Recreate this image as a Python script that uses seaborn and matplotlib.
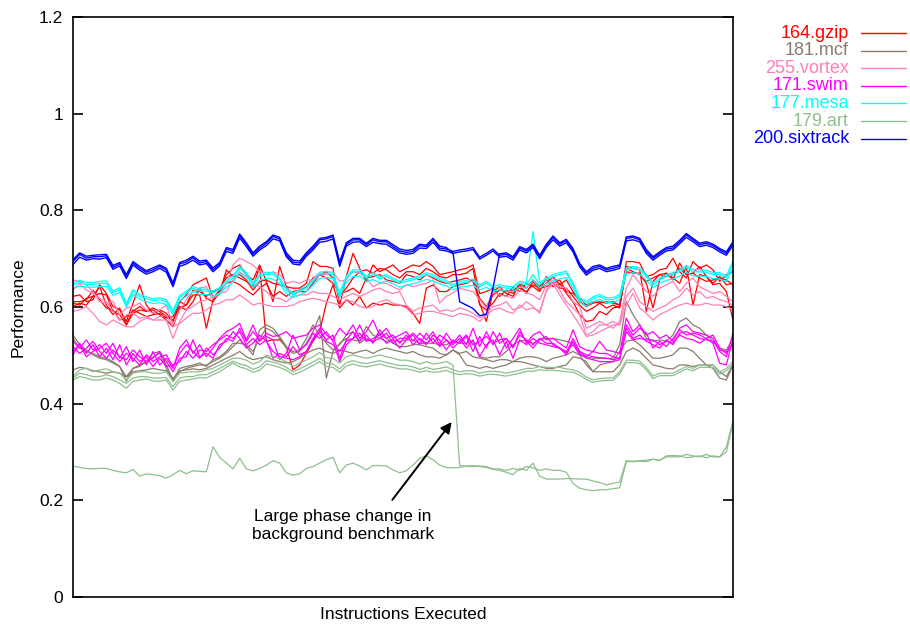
import matplotlib
matplotlib.use("Agg")
import matplotlib.pyplot as plt
from matplotlib.lines import Line2D
import numpy as np
import pandas as pd
import seaborn as sns

# Benchmarks, in plotting / key order
benchmarks = ["164.gzip", "181.mcf", "255.vortex", "171.swim",
              "177.mesa", "179.art", "200.sixtrack"]

colors = {
    "164.gzip": "#ff0000",
    "181.mcf": "#8b7b6b",
    "255.vortex": "#ff7fb8",
    "171.swim": "#ff00ff",
    "177.mesa": "#00ffff",
    "179.art": "#8fbf8f",
    "200.sixtrack": "#0000ff",
}

# Per-sample performance of each run (100 samples per run)
gzip_runs = [
    [0.622, 0.625, 0.611, 0.615, 0.646, 0.628, 0.601, 0.594, 0.570, 0.608, 0.646, 0.604, 0.587, 0.594, 0.587, 0.570, 0.611, 0.625, 0.646, 0.653, 0.660, 0.618, 0.635, 0.667, 0.680,
     0.687, 0.667, 0.656, 0.687, 0.653, 0.611, 0.684, 0.642, 0.639, 0.639, 0.649, 0.694, 0.684, 0.684, 0.680, 0.604, 0.663, 0.711, 0.680, 0.653, 0.687, 0.673, 0.680, 0.687, 0.673,
     0.680, 0.687, 0.684, 0.694, 0.684, 0.667, 0.670, 0.673, 0.677, 0.680, 0.687, 0.628, 0.632, 0.639, 0.622, 0.635, 0.628, 0.646, 0.628, 0.653, 0.635, 0.649, 0.663, 0.646, 0.656,
     0.632, 0.611, 0.601, 0.608, 0.611, 0.608, 0.611, 0.604, 0.694, 0.694, 0.691, 0.663, 0.667, 0.677, 0.680, 0.701, 0.673, 0.660, 0.694, 0.680, 0.687, 0.677, 0.653, 0.667, 0.673],
    [0.608, 0.604, 0.618, 0.622, 0.642, 0.604, 0.584, 0.598, 0.563, 0.594, 0.587, 0.580, 0.584, 0.587, 0.577, 0.580, 0.611, 0.604, 0.625, 0.625, 0.556, 0.615, 0.628, 0.677, 0.663,
     0.667, 0.656, 0.635, 0.653, 0.656, 0.649, 0.646, 0.642, 0.625, 0.632, 0.632, 0.649, 0.667, 0.673, 0.660, 0.625, 0.639, 0.660, 0.673, 0.677, 0.670, 0.680, 0.677, 0.667, 0.660,
     0.673, 0.673, 0.667, 0.680, 0.673, 0.663, 0.660, 0.667, 0.667, 0.670, 0.680, 0.604, 0.594, 0.608, 0.628, 0.622, 0.642, 0.632, 0.649, 0.642, 0.632, 0.663, 0.649, 0.639, 0.639,
     0.622, 0.604, 0.591, 0.598, 0.608, 0.598, 0.604, 0.598, 0.684, 0.680, 0.677, 0.591, 0.653, 0.667, 0.670, 0.656, 0.691, 0.667, 0.670, 0.684, 0.663, 0.649, 0.663, 0.646, 0.649],
    [0.601, 0.608, 0.604, 0.622, 0.628, 0.625, 0.591, 0.584, 0.563, 0.587, 0.594, 0.591, 0.594, 0.584, 0.573, 0.559, 0.598, 0.604, 0.635, 0.632, 0.622, 0.632, 0.639, 0.660, 0.667,
     0.660, 0.653, 0.642, 0.683, 0.529, 0.532, 0.532, 0.518, 0.470, 0.480, 0.504, 0.529, 0.549, 0.608, 0.646, 0.598, 0.615, 0.604, 0.622, 0.598, 0.608, 0.604, 0.608, 0.604, 0.604,
     0.601, 0.587, 0.566, 0.639, 0.646, 0.632, 0.632, 0.642, 0.646, 0.649, 0.656, 0.608, 0.570, 0.632, 0.642, 0.628, 0.622, 0.649, 0.639, 0.656, 0.642, 0.656, 0.642, 0.649, 0.628,
     0.611, 0.584, 0.570, 0.573, 0.591, 0.584, 0.598, 0.601, 0.680, 0.673, 0.667, 0.649, 0.598, 0.656, 0.670, 0.660, 0.649, 0.684, 0.604, 0.667, 0.663, 0.646, 0.649, 0.632, 0.573],
    [0.611, 0.611, 0.615, 0.635, 0.615, 0.598, 0.594, 0.573, 0.580, 0.591, 0.601, 0.591, 0.598, 0.591, 0.580, 0.573, 0.601, 0.594, 0.611, 0.639, 0.618, 0.611, 0.632, 0.649, 0.653,
     0.646, 0.635, 0.625, 0.639, 0.649, 0.622, 0.632, 0.622, 0.632, 0.635, 0.642, 0.660, 0.667, 0.660, 0.649, 0.628, 0.632, 0.639, 0.628, 0.660, 0.663, 0.667, 0.656, 0.653, 0.649,
     0.667, 0.663, 0.656, 0.667, 0.660, 0.653, 0.649, 0.653, 0.656, 0.660, 0.653, 0.618, 0.601, 0.625, 0.635, 0.632, 0.635, 0.639, 0.632, 0.646, 0.639, 0.642, 0.649, 0.656, 0.632,
     0.628, 0.618, 0.604, 0.611, 0.608, 0.611, 0.608, 0.604, 0.673, 0.670, 0.670, 0.653, 0.660, 0.667, 0.663, 0.667, 0.680, 0.667, 0.670, 0.660, 0.653, 0.656, 0.660, 0.656, 0.646],
]

mcf_runs = [
    [0.542, 0.522, 0.511, 0.501, 0.494, 0.491, 0.484, 0.477, 0.446, 0.473, 0.477, 0.487, 0.504, 0.508, 0.480, 0.449, 0.473, 0.477, 0.480, 0.484, 0.477, 0.491, 0.497, 0.508, 0.525,
     0.525, 0.522, 0.508, 0.535, 0.556, 0.549, 0.535, 0.515, 0.504, 0.508, 0.525, 0.549, 0.582, 0.453, 0.508, 0.525, 0.535, 0.532, 0.529, 0.560, 0.542, 0.535, 0.529, 0.532, 0.529,
     0.532, 0.532, 0.525, 0.525, 0.525, 0.522, 0.522, 0.529, 0.525, 0.525, 0.529, 0.497, 0.494, 0.497, 0.497, 0.508, 0.522, 0.529, 0.532, 0.525, 0.532, 0.535, 0.535, 0.532, 0.529,
     0.525, 0.508, 0.497, 0.494, 0.494, 0.494, 0.494, 0.522, 0.611, 0.584, 0.563, 0.535, 0.529, 0.532, 0.529, 0.542, 0.570, 0.577, 0.563, 0.556, 0.542, 0.529, 0.515, 0.511, 0.535],
    [0.470, 0.475, 0.473, 0.468, 0.466, 0.463, 0.466, 0.463, 0.455, 0.466, 0.468, 0.470, 0.473, 0.470, 0.468, 0.452, 0.468, 0.470, 0.472, 0.470, 0.473, 0.480, 0.487, 0.494, 0.500,
     0.508, 0.497, 0.491, 0.494, 0.497, 0.491, 0.487, 0.484, 0.487, 0.494, 0.504, 0.511, 0.515, 0.508, 0.504, 0.511, 0.508, 0.504, 0.508, 0.511, 0.504, 0.511, 0.515, 0.511, 0.508,
     0.504, 0.508, 0.501, 0.497, 0.497, 0.494, 0.501, 0.511, 0.504, 0.508, 0.497, 0.494, 0.491, 0.487, 0.491, 0.491, 0.487, 0.494, 0.497, 0.497, 0.494, 0.487, 0.494, 0.497, 0.501,
     0.508, 0.501, 0.480, 0.466, 0.466, 0.466, 0.466, 0.480, 0.508, 0.515, 0.508, 0.494, 0.480, 0.477, 0.473, 0.472, 0.480, 0.480, 0.477, 0.480, 0.480, 0.480, 0.466, 0.456, 0.480],
    [0.535, 0.515, 0.508, 0.504, 0.497, 0.494, 0.487, 0.477, 0.456, 0.473, 0.480, 0.487, 0.497, 0.504, 0.473, 0.446, 0.466, 0.473, 0.477, 0.480, 0.480, 0.487, 0.494, 0.504, 0.518,
     0.532, 0.518, 0.501, 0.553, 0.563, 0.556, 0.539, 0.518, 0.508, 0.511, 0.535, 0.563, 0.542, 0.525, 0.511, 0.522, 0.542, 0.549, 0.525, 0.535, 0.529, 0.546, 0.535, 0.525, 0.518,
     0.518, 0.522, 0.522, 0.518, 0.515, 0.504, 0.501, 0.511, 0.501, 0.480, 0.477, 0.473, 0.477, 0.473, 0.477, 0.480, 0.487, 0.487, 0.484, 0.480, 0.477, 0.473, 0.473, 0.477, 0.480,
     0.497, 0.494, 0.487, 0.466, 0.480, 0.484, 0.487, 0.508, 0.529, 0.532, 0.522, 0.508, 0.494, 0.494, 0.497, 0.501, 0.515, 0.515, 0.508, 0.494, 0.480, 0.473, 0.453, 0.449, 0.480],
]

vortex_runs = [
    [0.656, 0.653, 0.646, 0.632, 0.611, 0.608, 0.611, 0.584, 0.598, 0.601, 0.608, 0.594, 0.587, 0.594, 0.604, 0.563, 0.594, 0.615, 0.632, 0.639, 0.642, 0.618, 0.628, 0.649, 0.687,
     0.701, 0.694, 0.687, 0.673, 0.667, 0.673, 0.667, 0.649, 0.653, 0.649, 0.656, 0.656, 0.667, 0.667, 0.673, 0.653, 0.656, 0.673, 0.670, 0.660, 0.642, 0.649, 0.649, 0.642, 0.635,
     0.646, 0.642, 0.646, 0.649, 0.656, 0.608, 0.622, 0.629, 0.639, 0.635, 0.632, 0.615, 0.598, 0.632, 0.625, 0.622, 0.618, 0.635, 0.629, 0.625, 0.615, 0.646, 0.660, 0.642, 0.639,
     0.611, 0.601, 0.556, 0.563, 0.570, 0.563, 0.556, 0.570, 0.639, 0.667, 0.649, 0.632, 0.622, 0.639, 0.646, 0.653, 0.632, 0.649, 0.660, 0.642, 0.635, 0.628, 0.632, 0.622, 0.611],
    [0.635, 0.649, 0.635, 0.628, 0.618, 0.611, 0.591, 0.573, 0.584, 0.587, 0.577, 0.580, 0.573, 0.573, 0.573, 0.535, 0.570, 0.594, 0.601, 0.611, 0.615, 0.622, 0.628, 0.632, 0.656,
     0.673, 0.663, 0.649, 0.642, 0.632, 0.618, 0.618, 0.611, 0.622, 0.625, 0.625, 0.632, 0.628, 0.628, 0.622, 0.615, 0.622, 0.628, 0.622, 0.628, 0.635, 0.639, 0.632, 0.628, 0.632,
     0.604, 0.591, 0.598, 0.601, 0.604, 0.591, 0.594, 0.591, 0.598, 0.594, 0.587, 0.577, 0.587, 0.601, 0.604, 0.611, 0.594, 0.598, 0.611, 0.601, 0.587, 0.635, 0.653, 0.635, 0.611,
     0.598, 0.584, 0.542, 0.549, 0.563, 0.563, 0.570, 0.563, 0.622, 0.639, 0.611, 0.601, 0.591, 0.598, 0.604, 0.615, 0.622, 0.639, 0.625, 0.632, 0.618, 0.622, 0.615, 0.611, 0.604],
    [0.591, 0.594, 0.601, 0.587, 0.570, 0.563, 0.573, 0.566, 0.559, 0.559, 0.570, 0.577, 0.573, 0.580, 0.584, 0.559, 0.566, 0.577, 0.587, 0.587, 0.594, 0.604, 0.608, 0.615, 0.615,
     0.625, 0.615, 0.604, 0.608, 0.604, 0.601, 0.601, 0.601, 0.604, 0.611, 0.615, 0.618, 0.615, 0.611, 0.608, 0.604, 0.615, 0.611, 0.601, 0.598, 0.601, 0.611, 0.615, 0.608, 0.604,
     0.598, 0.584, 0.587, 0.591, 0.591, 0.587, 0.584, 0.580, 0.587, 0.584, 0.580, 0.570, 0.584, 0.594, 0.598, 0.591, 0.587, 0.604, 0.594, 0.598, 0.591, 0.632, 0.649, 0.625, 0.604,
     0.584, 0.563, 0.539, 0.542, 0.549, 0.556, 0.563, 0.563, 0.604, 0.628, 0.598, 0.587, 0.573, 0.584, 0.591, 0.598, 0.604, 0.608, 0.604, 0.604, 0.608, 0.604, 0.604, 0.601, 0.594],
]

swim_runs = [
    [0.529, 0.515, 0.532, 0.511, 0.522, 0.504, 0.525, 0.494, 0.518, 0.487, 0.511, 0.480, 0.508, 0.480, 0.494, 0.473, 0.515, 0.532, 0.504, 0.522, 0.497, 0.515, 0.535, 0.549, 0.556,
     0.566, 0.532, 0.563, 0.529, 0.546, 0.539, 0.542, 0.549, 0.535, 0.539, 0.542, 0.556, 0.563, 0.542, 0.532, 0.556, 0.542, 0.563, 0.535, 0.549, 0.573, 0.542, 0.556, 0.535, 0.542,
     0.549, 0.529, 0.546, 0.532, 0.549, 0.522, 0.546, 0.525, 0.542, 0.522, 0.556, 0.518, 0.549, 0.522, 0.546, 0.515, 0.535, 0.556, 0.525, 0.542, 0.549, 0.532, 0.535, 0.525, 0.515,
     0.553, 0.518, 0.511, 0.508, 0.529, 0.511, 0.508, 0.504, 0.577, 0.549, 0.563, 0.542, 0.549, 0.535, 0.542, 0.529, 0.556, 0.563, 0.549, 0.546, 0.542, 0.535, 0.508, 0.497, 0.546],
    [0.501, 0.525, 0.504, 0.522, 0.497, 0.515, 0.491, 0.522, 0.480, 0.504, 0.487, 0.497, 0.477, 0.494, 0.477, 0.480, 0.487, 0.508, 0.494, 0.511, 0.508, 0.522, 0.532, 0.542, 0.535,
     0.549, 0.522, 0.535, 0.522, 0.532, 0.494, 0.504, 0.497, 0.518, 0.501, 0.508, 0.535, 0.556, 0.529, 0.522, 0.508, 0.529, 0.535, 0.546, 0.529, 0.535, 0.542, 0.525, 0.532, 0.515,
     0.532, 0.542, 0.522, 0.546, 0.525, 0.542, 0.532, 0.515, 0.529, 0.542, 0.522, 0.529, 0.539, 0.525, 0.532, 0.535, 0.518, 0.542, 0.532, 0.522, 0.535, 0.525, 0.525, 0.515, 0.505,
     0.535, 0.508, 0.501, 0.497, 0.495, 0.494, 0.491, 0.494, 0.556, 0.535, 0.542, 0.529, 0.522, 0.515, 0.532, 0.522, 0.546, 0.549, 0.542, 0.535, 0.532, 0.529, 0.511, 0.508, 0.522],
    [0.518, 0.504, 0.515, 0.529, 0.508, 0.494, 0.511, 0.497, 0.491, 0.511, 0.497, 0.487, 0.494, 0.508, 0.487, 0.466, 0.494, 0.497, 0.532, 0.497, 0.504, 0.494, 0.522, 0.529, 0.549,
     0.535, 0.515, 0.525, 0.542, 0.529, 0.508, 0.497, 0.494, 0.491, 0.497, 0.508, 0.532, 0.549, 0.532, 0.542, 0.494, 0.532, 0.549, 0.529, 0.542, 0.525, 0.553, 0.535, 0.542, 0.525,
     0.542, 0.522, 0.535, 0.525, 0.535, 0.518, 0.532, 0.522, 0.535, 0.515, 0.532, 0.497, 0.522, 0.532, 0.501, 0.529, 0.494, 0.532, 0.522, 0.535, 0.525, 0.522, 0.518, 0.515, 0.501,
     0.529, 0.504, 0.494, 0.491, 0.487, 0.487, 0.487, 0.491, 0.563, 0.542, 0.556, 0.546, 0.515, 0.529, 0.518, 0.535, 0.553, 0.542, 0.546, 0.542, 0.535, 0.525, 0.484, 0.480, 0.535],
    [0.508, 0.522, 0.497, 0.508, 0.515, 0.525, 0.504, 0.487, 0.504, 0.494, 0.480, 0.501, 0.487, 0.497, 0.501, 0.477, 0.504, 0.522, 0.508, 0.494, 0.515, 0.501, 0.515, 0.535, 0.529,
     0.556, 0.529, 0.549, 0.532, 0.539, 0.532, 0.491, 0.504, 0.542, 0.511, 0.522, 0.546, 0.535, 0.549, 0.529, 0.487, 0.522, 0.535, 0.563, 0.532, 0.529, 0.535, 0.546, 0.525, 0.535,
     0.535, 0.546, 0.532, 0.522, 0.542, 0.532, 0.511, 0.532, 0.525, 0.539, 0.508, 0.539, 0.515, 0.549, 0.525, 0.535, 0.515, 0.549, 0.529, 0.515, 0.532, 0.539, 0.522, 0.515, 0.508,
     0.522, 0.501, 0.497, 0.508, 0.504, 0.504, 0.497, 0.494, 0.549, 0.532, 0.535, 0.532, 0.532, 0.522, 0.529, 0.525, 0.542, 0.535, 0.532, 0.525, 0.535, 0.542, 0.515, 0.504, 0.525],
]

mesa_runs = [
    [0.646, 0.651, 0.646, 0.647, 0.649, 0.649, 0.629, 0.636, 0.604, 0.632, 0.622, 0.617, 0.613, 0.615, 0.611, 0.589, 0.620, 0.629, 0.639, 0.633, 0.633, 0.629, 0.636, 0.649, 0.660,
     0.680, 0.667, 0.646, 0.663, 0.668, 0.667, 0.656, 0.635, 0.625, 0.632, 0.639, 0.653, 0.668, 0.670, 0.667, 0.625, 0.660, 0.673, 0.673, 0.660, 0.667, 0.658, 0.663, 0.656, 0.649,
     0.653, 0.656, 0.661, 0.667, 0.663, 0.656, 0.651, 0.642, 0.649, 0.651, 0.654, 0.642, 0.649, 0.639, 0.642, 0.639, 0.638, 0.649, 0.646, 0.667, 0.646, 0.656, 0.663, 0.667, 0.670,
     0.646, 0.615, 0.608, 0.617, 0.622, 0.615, 0.615, 0.622, 0.677, 0.680, 0.677, 0.663, 0.646, 0.656, 0.663, 0.667, 0.673, 0.682, 0.673, 0.673, 0.672, 0.667, 0.667, 0.660, 0.691],
    [0.640, 0.643, 0.641, 0.641, 0.642, 0.643, 0.624, 0.630, 0.600, 0.626, 0.616, 0.611, 0.607, 0.609, 0.605, 0.584, 0.613, 0.622, 0.632, 0.626, 0.626, 0.622, 0.628, 0.641, 0.651,
     0.671, 0.659, 0.640, 0.655, 0.660, 0.658, 0.648, 0.628, 0.619, 0.625, 0.632, 0.645, 0.659, 0.661, 0.659, 0.619, 0.651, 0.663, 0.664, 0.652, 0.657, 0.650, 0.654, 0.648, 0.641,
     0.645, 0.648, 0.652, 0.657, 0.654, 0.648, 0.644, 0.636, 0.641, 0.643, 0.645, 0.635, 0.641, 0.633, 0.636, 0.633, 0.632, 0.641, 0.639, 0.656, 0.639, 0.648, 0.654, 0.658, 0.661,
     0.639, 0.609, 0.602, 0.611, 0.616, 0.609, 0.609, 0.616, 0.668, 0.671, 0.668, 0.655, 0.640, 0.649, 0.655, 0.658, 0.664, 0.672, 0.664, 0.664, 0.663, 0.659, 0.658, 0.652, 0.682],
    [0.650, 0.655, 0.651, 0.651, 0.653, 0.654, 0.633, 0.640, 0.608, 0.636, 0.626, 0.621, 0.617, 0.619, 0.615, 0.593, 0.624, 0.633, 0.643, 0.637, 0.637, 0.633, 0.640, 0.654, 0.665,
     0.684, 0.671, 0.650, 0.667, 0.672, 0.671, 0.660, 0.639, 0.629, 0.636, 0.643, 0.657, 0.672, 0.674, 0.671, 0.629, 0.664, 0.677, 0.677, 0.664, 0.671, 0.662, 0.667, 0.660, 0.653,
     0.657, 0.660, 0.665, 0.671, 0.667, 0.660, 0.655, 0.646, 0.653, 0.655, 0.658, 0.646, 0.653, 0.643, 0.646, 0.643, 0.642, 0.653, 0.650, 0.756, 0.650, 0.660, 0.667, 0.671, 0.674,
     0.650, 0.619, 0.612, 0.621, 0.626, 0.619, 0.619, 0.626, 0.681, 0.684, 0.681, 0.667, 0.650, 0.660, 0.667, 0.671, 0.677, 0.686, 0.677, 0.677, 0.676, 0.671, 0.671, 0.664, 0.695],
]

art_runs = [
    [0.456, 0.470, 0.473, 0.466, 0.470, 0.472, 0.466, 0.463, 0.449, 0.463, 0.466, 0.466, 0.463, 0.463, 0.466, 0.446, 0.463, 0.465, 0.466, 0.466, 0.470, 0.473, 0.480, 0.487, 0.494,
     0.494, 0.490, 0.482, 0.487, 0.500, 0.497, 0.493, 0.487, 0.477, 0.484, 0.490, 0.497, 0.506, 0.495, 0.494, 0.484, 0.497, 0.501, 0.497, 0.494, 0.497, 0.501, 0.497, 0.494, 0.490,
     0.490, 0.487, 0.482, 0.487, 0.482, 0.484, 0.487, 0.480, 0.272, 0.270, 0.270, 0.271, 0.270, 0.265, 0.265, 0.262, 0.266, 0.262, 0.270, 0.267, 0.262, 0.265, 0.262, 0.262, 0.258,
     0.235, 0.225, 0.222, 0.220, 0.222, 0.222, 0.224, 0.226, 0.280, 0.280, 0.281, 0.280, 0.285, 0.283, 0.290, 0.290, 0.290, 0.295, 0.292, 0.290, 0.295, 0.290, 0.290, 0.310, 0.365],
    [0.453, 0.463, 0.460, 0.456, 0.456, 0.460, 0.456, 0.449, 0.442, 0.453, 0.456, 0.456, 0.453, 0.453, 0.454, 0.435, 0.453, 0.456, 0.456, 0.460, 0.460, 0.466, 0.473, 0.480, 0.488,
     0.482, 0.479, 0.471, 0.476, 0.489, 0.486, 0.482, 0.475, 0.466, 0.472, 0.479, 0.486, 0.494, 0.484, 0.482, 0.472, 0.485, 0.489, 0.485, 0.483, 0.486, 0.489, 0.485, 0.482, 0.479,
     0.479, 0.476, 0.471, 0.475, 0.471, 0.473, 0.476, 0.470, 0.466, 0.468, 0.468, 0.463, 0.466, 0.467, 0.466, 0.463, 0.466, 0.469, 0.473, 0.473, 0.477, 0.475, 0.475, 0.475, 0.472,
     0.470, 0.465, 0.455, 0.449, 0.452, 0.453, 0.453, 0.466, 0.490, 0.490, 0.488, 0.475, 0.457, 0.463, 0.463, 0.463, 0.470, 0.477, 0.473, 0.480, 0.480, 0.480, 0.466, 0.473, 0.487],
    [0.449, 0.456, 0.453, 0.449, 0.449, 0.453, 0.449, 0.442, 0.432, 0.446, 0.449, 0.451, 0.447, 0.446, 0.449, 0.428, 0.446, 0.449, 0.451, 0.454, 0.453, 0.460, 0.466, 0.475, 0.484,
     0.476, 0.472, 0.465, 0.469, 0.482, 0.479, 0.475, 0.469, 0.460, 0.465, 0.472, 0.479, 0.487, 0.477, 0.475, 0.465, 0.478, 0.482, 0.478, 0.476, 0.479, 0.482, 0.478, 0.475, 0.472,
     0.472, 0.469, 0.465, 0.468, 0.465, 0.466, 0.469, 0.463, 0.460, 0.462, 0.461, 0.457, 0.460, 0.461, 0.459, 0.457, 0.460, 0.463, 0.467, 0.467, 0.470, 0.469, 0.469, 0.468, 0.466,
     0.465, 0.459, 0.450, 0.444, 0.447, 0.448, 0.448, 0.461, 0.485, 0.485, 0.483, 0.470, 0.452, 0.458, 0.458, 0.458, 0.465, 0.472, 0.468, 0.475, 0.475, 0.475, 0.461, 0.468, 0.482],
    [0.271, 0.268, 0.266, 0.265, 0.266, 0.266, 0.262, 0.259, 0.257, 0.264, 0.250, 0.255, 0.253, 0.251, 0.246, 0.253, 0.262, 0.255, 0.261, 0.260, 0.259, 0.311, 0.289, 0.277, 0.265,
     0.287, 0.265, 0.261, 0.266, 0.273, 0.282, 0.277, 0.257, 0.252, 0.255, 0.266, 0.270, 0.277, 0.284, 0.289, 0.257, 0.273, 0.277, 0.271, 0.263, 0.272, 0.272, 0.271, 0.263, 0.257,
     0.261, 0.273, 0.287, 0.292, 0.284, 0.273, 0.268, 0.267, 0.268, 0.271, 0.272, 0.270, 0.268, 0.264, 0.262, 0.258, 0.253, 0.266, 0.262, 0.277, 0.250, 0.244, 0.244, 0.244, 0.245,
     0.245, 0.244, 0.244, 0.240, 0.237, 0.232, 0.235, 0.238, 0.282, 0.281, 0.282, 0.283, 0.285, 0.282, 0.292, 0.293, 0.292, 0.288, 0.290, 0.292, 0.288, 0.292, 0.290, 0.300, 0.360],
]

sixtrack_runs = [
    [0.694, 0.709, 0.701, 0.704, 0.704, 0.706, 0.682, 0.689, 0.663, 0.691, 0.680, 0.672, 0.677, 0.684, 0.677, 0.646, 0.689, 0.693, 0.702, 0.691, 0.694, 0.677, 0.689, 0.720, 0.715,
     0.748, 0.729, 0.709, 0.722, 0.732, 0.746, 0.741, 0.708, 0.693, 0.691, 0.709, 0.722, 0.739, 0.741, 0.746, 0.689, 0.730, 0.739, 0.739, 0.729, 0.739, 0.735, 0.735, 0.725, 0.716,
     0.713, 0.715, 0.727, 0.725, 0.739, 0.722, 0.720, 0.715, 0.718, 0.720, 0.723, 0.703, 0.711, 0.720, 0.707, 0.709, 0.701, 0.722, 0.716, 0.727, 0.704, 0.727, 0.744, 0.730, 0.737,
     0.718, 0.687, 0.670, 0.680, 0.684, 0.677, 0.680, 0.684, 0.742, 0.744, 0.739, 0.715, 0.701, 0.711, 0.720, 0.722, 0.735, 0.749, 0.739, 0.729, 0.732, 0.727, 0.718, 0.711, 0.732],
    [0.688, 0.703, 0.697, 0.700, 0.699, 0.702, 0.678, 0.685, 0.659, 0.687, 0.676, 0.668, 0.673, 0.680, 0.672, 0.642, 0.684, 0.689, 0.697, 0.687, 0.690, 0.673, 0.685, 0.715, 0.711,
     0.743, 0.725, 0.705, 0.718, 0.727, 0.741, 0.737, 0.704, 0.689, 0.687, 0.705, 0.718, 0.734, 0.736, 0.741, 0.684, 0.726, 0.734, 0.735, 0.725, 0.734, 0.731, 0.730, 0.721, 0.712,
     0.709, 0.711, 0.722, 0.721, 0.734, 0.718, 0.716, 0.711, 0.714, 0.716, 0.719, 0.699, 0.707, 0.716, 0.703, 0.705, 0.697, 0.718, 0.712, 0.723, 0.700, 0.723, 0.739, 0.726, 0.733,
     0.714, 0.683, 0.666, 0.676, 0.680, 0.673, 0.676, 0.680, 0.737, 0.739, 0.735, 0.711, 0.697, 0.707, 0.716, 0.718, 0.731, 0.744, 0.735, 0.725, 0.728, 0.723, 0.714, 0.707, 0.728],
    [0.698, 0.712, 0.705, 0.707, 0.708, 0.709, 0.686, 0.692, 0.667, 0.694, 0.684, 0.675, 0.681, 0.687, 0.680, 0.650, 0.692, 0.697, 0.705, 0.695, 0.697, 0.681, 0.692, 0.723, 0.719,
     0.751, 0.733, 0.712, 0.726, 0.735, 0.749, 0.744, 0.712, 0.697, 0.695, 0.712, 0.726, 0.742, 0.744, 0.749, 0.693, 0.733, 0.742, 0.742, 0.732, 0.742, 0.738, 0.738, 0.729, 0.720,
     0.717, 0.719, 0.730, 0.728, 0.742, 0.726, 0.723, 0.712, 0.611, 0.604, 0.597, 0.582, 0.585, 0.639, 0.710, 0.712, 0.704, 0.725, 0.719, 0.730, 0.707, 0.730, 0.747, 0.733, 0.740,
     0.721, 0.690, 0.673, 0.684, 0.687, 0.680, 0.684, 0.687, 0.745, 0.747, 0.742, 0.719, 0.704, 0.714, 0.723, 0.726, 0.738, 0.752, 0.742, 0.732, 0.735, 0.730, 0.721, 0.714, 0.735],
]

y_ticks = [0, 0.2, 0.4, 0.6, 0.8, 1.0, 1.2]
y_tick_labels = ["0", "0.2", "0.4", "0.6", "0.8", "1", "1.2"]

all_runs = [gzip_runs, mcf_runs, vortex_runs, swim_runs, mesa_runs, art_runs, sixtrack_runs]

records = []
for name, runs in zip(benchmarks, all_runs):
    for r, vals in enumerate(runs):
        for i, v in enumerate(vals):
            records.append((name, f"{name}#{r}", i, v))
df = pd.DataFrame(records, columns=["benchmark", "run", "sample", "performance"])

sns.set_theme(style="white")
plt.rcParams["font.family"] = ["Liberation Sans", "DejaVu Sans"]

fig = plt.figure(figsize=(9.10, 6.28), dpi=100)
ax = fig.add_axes([73 / 910, 31 / 628, 660 / 910, 580 / 628])

for name in benchmarks:
    sub = df[df["benchmark"] == name]
    sns.lineplot(data=sub, x="sample", y="performance", units="run",
                 estimator=None, sort=False, color=colors[name],
                 linewidth=1.0 if name == "200.sixtrack" else 0.9,
                 legend=False, ax=ax)

n_samples = len(gzip_runs[0])
ax.set_xlim(0, n_samples - 1)
ax.set_ylim(0, 1.2)
ax.set_xticks([])
ax.set_yticks(y_ticks)
ax.set_yticklabels(y_tick_labels)
ax.tick_params(axis="y", direction="in", length=7, width=1.2, left=True,
               right=True, labelsize=12.5, colors="black", pad=7)
for sp in ax.spines.values():
    sp.set_visible(True)
    sp.set_color("black")
    sp.set_linewidth(1.2)

ax.set_ylabel("Performance", fontsize=12.5, color="black", labelpad=10)
ax.set_xlabel("Instructions Executed", fontsize=12.5, color="black", labelpad=7)

# Annotation of the phase change in the art run
ax.annotate("", xy=(56.8, 0.362), xytext=(47.9, 0.201),
            arrowprops=dict(arrowstyle="-|>", color="black", lw=1.4,
                            mutation_scale=16, shrinkA=0, shrinkB=0))
ax.text(40.5, 0.147, "Large phase change in\nbackground benchmark",
        ha="center", va="center", fontsize=12.5, linespacing=1.25,
        color="black")

# Key at the right, gnuplot style: label right-aligned, sample line after it
for k, name in enumerate(benchmarks):
    y = 1 - (33 + 17.6 * k) / 628
    fig.text(849 / 910, y, name, color=colors[name], ha="right", va="center",
             fontsize=13)
    fig.add_artist(Line2D([861 / 910, 906 / 910], [y, y], color=colors[name],
                          lw=1.0, transform=fig.transFigure))

fig.savefig("out.png", dpi=100, facecolor="white")
